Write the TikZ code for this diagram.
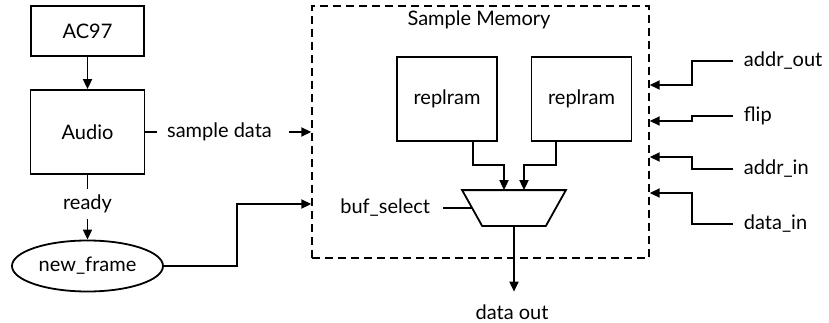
\documentclass[tikz,border=0pt]{standalone}
\usepackage{fontspec}
\setmainfont{Lato}
\usetikzlibrary{arrows.meta,shapes.geometric,calc}
\begin{document}
\begin{tikzpicture}[x=1pt,y=-1pt,
  font=\fontsize{20}{23}\selectfont,
  line width=1.8pt,
  box/.style={draw, inner sep=0pt},
  lbl/.style={inner sep=0pt},
  arr/.style={-{Triangle[length=10pt,width=9pt]}},
  memframe/.style={draw, line width=1.4pt, dash pattern=on 8pt off 5pt, inner sep=0pt}]
\useasboundingbox (0,0) rectangle (829,323);
% left column
\node[box, minimum width=113pt, minimum height=50pt] (ac97) at (87.5,31) {AC97};
\node[box, minimum width=114pt, minimum height=84pt] (audio) at (87.5,132) {Audio};
\node[lbl, inner ysep=5pt] (rdy) at (87.5,204) {ready};
\node[draw, ellipse, minimum width=151pt, minimum height=51pt, inner sep=0pt] (nf) at (87.5,266) {new\_frame};
\node[lbl] (sd) at (219.5,132) {sample data};
% memory
\node[memframe, minimum width=337pt, minimum height=252pt] (mem) at (480.5,132) {};
\node[lbl] (title) at (479,20) {Sample Memory};
\node[box, minimum width=100pt, minimum height=84pt] (ram1) at (447,99) {replram};
\node[box, minimum width=100pt, minimum height=84pt] (ram2) at (581.5,99) {replram};
\node[inner sep=0pt, minimum width=102pt, minimum height=34pt] (mux) at (514,208) {};
\draw (mux.north west) -- (mux.north east) -- ([xshift=-20pt]mux.south east)
  -- ([xshift=20pt]mux.south west) -- cycle;
\node[lbl, anchor=east] (bs) at (431,208) {buf\_select};
\node[lbl] (dout) at (512,312) {data out};
% right labels
\node[lbl, anchor=west] (aout) at (743,61) {addr\_out};
\node[lbl, anchor=west] (flip) at (743,116) {flip};
\node[lbl, anchor=west] (ain) at (743,169) {addr\_in};
\node[lbl, anchor=west] (din) at (743,224) {data\_in};
% connectors left
\draw[arr] (ac97) -- (audio);
\draw (audio.south) -- (rdy.north);
\draw[arr] (rdy.south) -- (nf.north);
\draw (audio.east) -- ([xshift=-9pt]sd.west);
\draw[arr] ([xshift=16pt]sd.east) -- (sd.east -| mem.west);
\coordinate (nfb) at (237,204);
\draw[arr] (nf.east) -| (nfb) -- (nfb -| mem.west);
% inside memory
\draw[arr] ([xshift=26pt]ram1.south) -- ++(0,23) -| ([xshift=-10pt]mux.north);
\draw[arr] ([xshift=-25.5pt]ram2.south) -- ++(0,23) -| ([xshift=10pt]mux.north);
\draw ([xshift=12pt]bs.east) -- ([xshift=10pt]mux.west);
\draw[arr] (mux.south) -- ($(mux.south |- dout.north)+(0,-12)$);
% right connectors
\coordinate (ka) at (692,85);
\coordinate (kf) at (692,121);
\coordinate (ki) at (692,157);
\coordinate (kd) at (692,193);
\draw[arr] ([xshift=-10pt]aout.west) -| (ka) -- (ka -| mem.east);
\draw[arr] ([xshift=-10pt]flip.west) -| (kf) -- (kf -| mem.east);
\draw[arr] ([xshift=-10pt]ain.west) -| (ki) -- (ki -| mem.east);
\draw[arr] ([xshift=-10pt]din.west) -| (kd) -- (kd -| mem.east);
\end{tikzpicture}
\end{document}
